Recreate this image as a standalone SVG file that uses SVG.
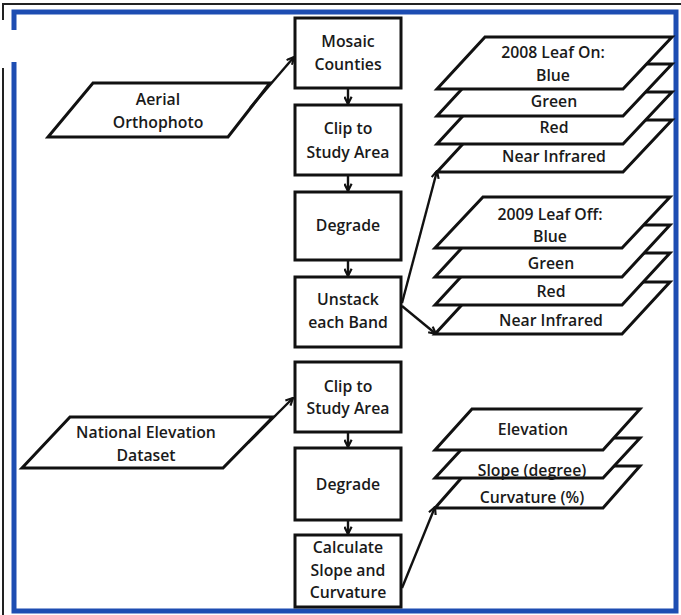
<svg xmlns="http://www.w3.org/2000/svg" width="681" height="615" viewBox="0 0 681 615">
<defs>
<marker id="ah" viewBox="0 0 10 10" refX="9" refY="5" markerWidth="9" markerHeight="9" markerUnits="userSpaceOnUse" orient="auto">
<path d="M1,1 L9,5 L1,9" fill="none" stroke="#111" stroke-width="2.4"/>
</marker>
</defs>
<style>
.box{fill:#fff;stroke:#111;stroke-width:3}
.pg{fill:#fff;stroke:#111;stroke-width:3;stroke-linejoin:miter}
.t{font-family:"Open Sans","Liberation Sans",sans-serif;font-size:15.8px;font-weight:600;fill:#1a1a1a;text-anchor:middle}
.c{fill:none;stroke:#111;stroke-width:2.4;marker-end:url(#ah)}
</style>
<rect width="681" height="615" fill="#fff"/>
<path d="M3,20 V4 H681 M3,68 V615" fill="none" stroke="#222" stroke-width="2"/>
<path d="M14,30 V12 H676 V611 H14 V62" fill="none" stroke="#1d4db2" stroke-width="5"/>

<g id="aerial"><polygon class="pg" points="93,83 270,83 228,137 48,137"/>
<text class="t" x="158" y="105">Aerial</text><text class="t" x="158" y="128">Orthophoto</text></g>
<g id="ned"><polygon class="pg" points="70,417 273,417 223,468 22,468"/>
<text class="t" x="146" y="438">National Elevation</text><text class="t" x="146" y="461">Dataset</text></g>

<g id="mosaic"><rect class="box" x="295" y="18" width="106" height="70"/>
<text class="t" x="348" y="47">Mosaic</text><text class="t" x="348" y="70">Counties</text></g>
<g id="clip1"><rect class="box" x="295" y="105" width="106" height="70"/>
<text class="t" x="348" y="134">Clip to</text><text class="t" x="348" y="158">Study Area</text></g>
<g id="degrade1"><rect class="box" x="295" y="192" width="106" height="68"/>
<text class="t" x="348" y="231">Degrade</text></g>
<g id="unstack"><rect class="box" x="295" y="277" width="106" height="70"/>
<text class="t" x="348" y="305">Unstack</text><text class="t" x="348" y="328">each Band</text></g>
<g id="clip2"><rect class="box" x="295" y="362" width="106" height="70"/>
<text class="t" x="348" y="392">Clip to</text><text class="t" x="348" y="414">Study Area</text></g>
<g id="degrade2"><rect class="box" x="295" y="448" width="106" height="72"/>
<text class="t" x="348" y="490">Degrade</text></g>
<g id="calc"><rect class="box" x="295" y="535" width="106" height="72"/>
<text class="t" x="348" y="553">Calculate</text><text class="t" x="348" y="576">Slope and</text><text class="t" x="348" y="598">Curvature</text></g>

<g id="stack2008">
<polygon class="pg" points="485,120 672,120 623,172 437,172"/>
<polygon class="pg" points="485,92 672,92 623,144 437,144"/>
<polygon class="pg" points="485,64 672,64 623,116 437,116"/>
<polygon class="pg" points="485,37 672,37 623,89 437,89"/>
<text class="t" x="553" y="58">2008 Leaf On:</text><text class="t" x="553" y="81">Blue</text>
<text class="t" x="554" y="107">Green</text><text class="t" x="554" y="133">Red</text><text class="t" x="554" y="162">Near Infrared</text>
</g>
<g id="stack2009">
<polygon class="pg" points="483,282 670,282 622,334 435,334"/>
<polygon class="pg" points="483,253 670,253 622,305 435,305"/>
<polygon class="pg" points="483,225 670,225 622,277 435,277"/>
<polygon class="pg" points="483,197 670,197 622,248 435,248"/>
<text class="t" x="550" y="220">2009 Leaf Off:</text><text class="t" x="550" y="242">Blue</text>
<text class="t" x="551" y="269">Green</text><text class="t" x="551" y="297">Red</text><text class="t" x="551" y="326">Near Infrared</text>
</g>
<g id="stackterrain">
<polygon class="pg" points="472,466 640,466 603,508 435,508"/>
<polygon class="pg" points="472,438 640,438 603,478 435,478"/>
<polygon class="pg" points="472,409 640,409 603,450 435,450"/>
<text class="t" x="533" y="435">Elevation</text>
<text class="t" x="532" y="476">Slope (degree)</text>
<text class="t" x="532" y="503">Curvature (%)</text>
</g>

<g id="connectors">
<line class="c" x1="348" y1="89" x2="348" y2="104"/>
<line class="c" x1="348" y1="176" x2="348" y2="191"/>
<line class="c" x1="348" y1="261" x2="348" y2="276"/>
<line class="c" x1="348" y1="433" x2="348" y2="447"/>
<line class="c" x1="348" y1="521" x2="348" y2="534"/>
<line class="c" x1="250" y1="108" x2="294" y2="57"/>
<line class="c" x1="248" y1="443" x2="293" y2="398"/>
<line class="c" x1="402" y1="303" x2="437" y2="171"/>
<line class="c" x1="402" y1="306" x2="436" y2="334"/>
<line class="c" x1="402" y1="588" x2="435" y2="507"/>
</g>
</svg>
